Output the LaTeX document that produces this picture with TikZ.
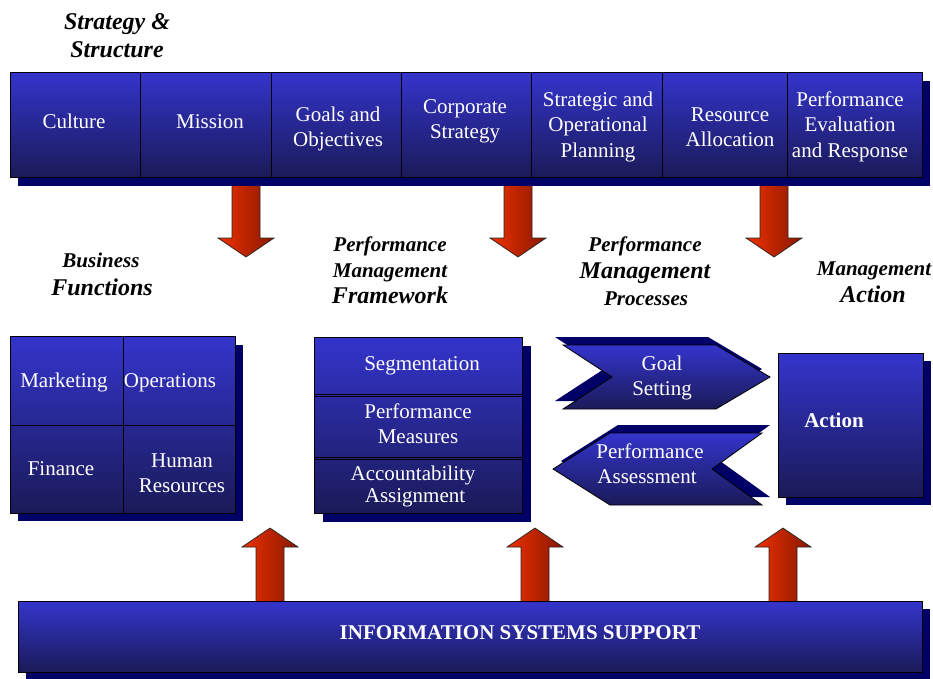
\documentclass[tikz,border=0pt]{standalone}
\usepackage{fontspec}
\setmainfont{Liberation Serif}
\usetikzlibrary{calc}
\definecolor{bluetop}{RGB}{52,52,204}
\definecolor{bluebot}{RGB}{26,26,88}
\definecolor{navyshadow}{RGB}{0,0,102}
\definecolor{arrowlight}{RGB}{238,48,0}
\definecolor{arrowdark}{RGB}{135,24,0}
\begin{document}
\begin{tikzpicture}[x=1pt,y=-1pt,
  panel/.style={rectangle, draw=black, line width=0.8pt, top color=bluetop, bottom color=bluebot, inner sep=0pt, anchor=north west},
  panelpath/.style={draw=black, line width=0.8pt, top color=bluetop, bottom color=bluebot},
  cellline/.style={draw=black, line width=0.8pt},
  dropfill/.style={fill=navyshadow},
  lbl/.style={text=white, font=\fontsize{21}{25}\selectfont, anchor=base, inner sep=0pt},
  lblbold/.style={lbl, font=\bfseries\fontsize{21}{25}\selectfont},
  headsmall/.style={font=\bfseries\itshape\fontsize{21}{25}\selectfont, anchor=base, inner sep=0pt},
  headbig/.style={font=\bfseries\itshape\fontsize{24}{28}\selectfont, anchor=base, inner sep=0pt},
  arrowbody/.style={draw=black!85, line width=0.7pt, left color=arrowlight, right color=arrowdark},
  pics/downarrowpic/.style={code={\path[arrowbody] (-14,0) -- (-14,55) -- (-28,55) -- (0,74) -- (28,55) -- (14,55) -- (14,0) -- cycle;}},
  pics/uparrowpic/.style={code={\path[arrowbody] (-14,0) -- (-14,-57) -- (-28,-57) -- (0,-76) -- (28,-57) -- (14,-57) -- (14,0) -- cycle;}},
]
\useasboundingbox (0,0) rectangle (933,678);

% ---- block arrows (drawn first, so the bars cover their ends)
\pic (down1) at (246,183) {downarrowpic};
\pic (down2) at (518,183) {downarrowpic};
\pic (down3) at (774,183) {downarrowpic};
\pic (up1) at (270,604) {uparrowpic};
\pic (up2) at (535,604) {uparrowpic};
\pic (up3) at (783,604) {uparrowpic};

% ---- drop shadows
\fill[dropfill] (18,81) rectangle (930,186);
\fill[dropfill] (18,345) rectangle (243,521);
\fill[dropfill] (323,346) rectangle (531,522);
\fill[dropfill] (786,361) rectangle (931,505);
\fill[dropfill] (26,609) rectangle (930,680);
\fill[dropfill] (555,337) -- (708,337) -- (762,369) -- (710,401) -- (555,401) -- (604,369) -- cycle;
\fill[dropfill] (618,425) -- (770,425) -- (720,461) -- (770,497) -- (618,497) -- (561,461) -- cycle;

% ---- strategy & structure bar
\node[panel, minimum width=130pt, minimum height=105pt] (culture) at (10,72) {};
\node[panel, minimum width=131pt, minimum height=105pt] (mission) at (140,72) {};
\node[panel, minimum width=130pt, minimum height=105pt] (goals) at (271,72) {};
\node[panel, minimum width=130pt, minimum height=105pt] (corp) at (401,72) {};
\node[panel, minimum width=131pt, minimum height=105pt] (plan) at (531,72) {};
\node[panel, minimum width=125pt, minimum height=105pt] (alloc) at (662,72) {};
\node[panel, minimum width=135pt, minimum height=105pt] (evalr) at (787,72) {};

\node[lbl] (tculture) at (74,128) {Culture};
\node[lbl] (tmission) at (210,128) {Mission};
\node[lbl] (tgoals1) at (338,121) {Goals and};
\node[lbl] (tgoals2) at (338,146) {Objectives};
\node[lbl] (tcorp1) at (465,113) {Corporate};
\node[lbl] (tcorp2) at (465,138) {Strategy};
\node[lbl] (tplan1) at (598,106) {Strategic and};
\node[lbl] (tplan2) at (598,131) {Operational};
\node[lbl] (tplan3) at (598,157) {Planning};
\node[lbl] (talloc1) at (730,121) {Resource};
\node[lbl] (talloc2) at (730,146) {Allocation};
\node[lbl] (teval1) at (850,106) {Performance};
\node[lbl] (teval2) at (850,131) {Evaluation};
\node[lbl] (teval3) at (850,157) {and Response};

% ---- business functions grid
\node[panel, minimum width=225pt, minimum height=177pt] (bizgrid) at (10,336) {};
\draw[cellline] (bizgrid.north) -- (bizgrid.south);
\draw[cellline] (bizgrid.west) -- (bizgrid.east);
\node[lbl] (tmkt) at (64,387) {Marketing};
\node[lbl] (tops) at (170,387) {Operations};
\node[lbl] (tfin) at (61,475) {Finance};
\node[lbl] (thr1) at (182,467) {Human};
\node[lbl] (thr2) at (182,492) {Resources};

% ---- performance management framework
\node[panel, minimum width=208pt, minimum height=176pt] (pmf) at (314,337) {};
\draw[cellline] ($(pmf.north west)+(0,57)$) -- ($(pmf.north east)+(0,57)$);
\draw[cellline] ($(pmf.north west)+(0,59)$) -- ($(pmf.north east)+(0,59)$);
\draw[cellline] ($(pmf.north west)+(0,120)$) -- ($(pmf.north east)+(0,120)$);
\draw[cellline] ($(pmf.north west)+(0,122)$) -- ($(pmf.north east)+(0,122)$);
\node[lbl] (tseg) at (422,370) {Segmentation};
\node[lbl] (tmeas1) at (418,418) {Performance};
\node[lbl] (tmeas2) at (418,443) {Measures};
\node[lbl] (tacc1) at (413,480) {Accountability};
\node[lbl] (tacc2) at (415,502) {Assignment};

% ---- process chevrons
\path[panelpath] (563,345) -- (716,345) -- (770,377) -- (716,409) -- (563,409) -- (612,377) -- cycle;
\path[panelpath] (610,433) -- (762,433) -- (712,469) -- (762,505) -- (610,505) -- (553,469) -- cycle;
\node[lbl] (tgoal1) at (662,370) {Goal};
\node[lbl] (tgoal2) at (662,395) {Setting};
\node[lbl] (tassess1) at (650,458) {Performance};
\node[lbl] (tassess2) at (647,483) {Assessment};

% ---- management action
\node[panel, minimum width=145pt, minimum height=144pt] (actbox) at (778,353) {};
\node[lblbold] (taction) at (834,427) {Action};

% ---- information systems bar
\node[panel, minimum width=904pt, minimum height=71pt] (issbar) at (18,601) {};
\node[lblbold] (tiss) at (520,639) {INFORMATION SYSTEMS SUPPORT};

% ---- headings
\node[headbig] (hss1) at (117,29) {Strategy \&};
\node[headbig] (hss2) at (117,57) {Structure};
\node[headsmall] (hbf1) at (101,267) {Business};
\node[headbig] (hbf2) at (102,295) {Functions};
\node[headsmall] (hpmf1) at (390,251) {Performance};
\node[headsmall] (hpmf2) at (390,277) {Management};
\node[headbig] (hpmf3) at (390,303) {Framework};
\node[headsmall] (hpmp1) at (645,251) {Performance};
\node[headbig] (hpmp2) at (645,278) {Management};
\node[headsmall] (hpmp3) at (646,305) {Processes};
\node[headsmall] (hma1) at (874,275) {Management};
\node[headbig] (hma2) at (873,302) {Action};
\end{tikzpicture}
\end{document}
